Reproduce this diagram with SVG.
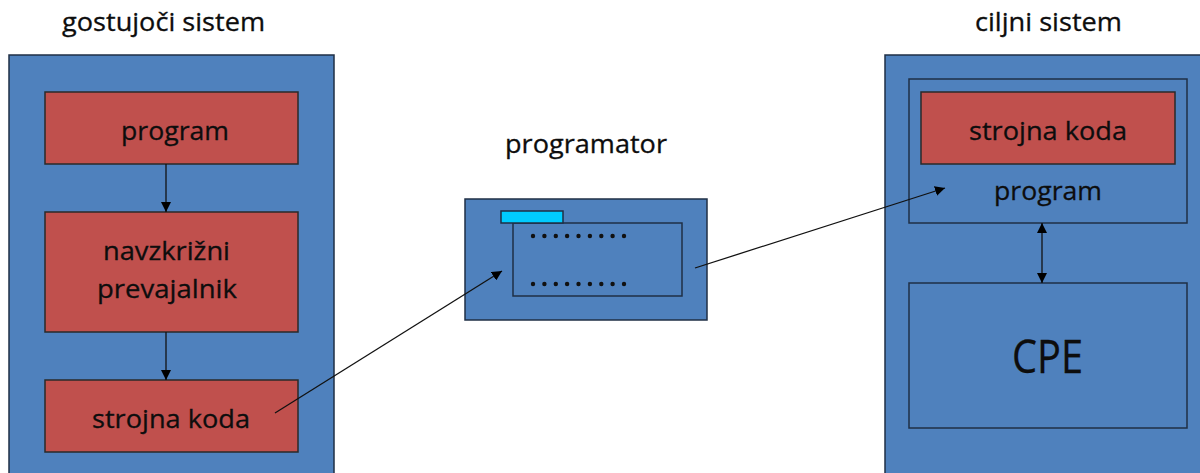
<svg xmlns="http://www.w3.org/2000/svg" width="1200" height="473" viewBox="0 0 1200 473">
  <defs>
    <marker id="arr" viewBox="0 0 10 10" refX="10" refY="5" markerWidth="10" markerHeight="10" markerUnits="userSpaceOnUse" orient="auto-start-reverse">
      <path d="M0,0 L10,5 L0,10 z" fill="#000"/>
    </marker>
    <style>
      .blue { fill: #4F81BD; stroke: #1F2F45; stroke-width: 1.5; }
      .frame { fill: none; stroke: #1F2F45; stroke-width: 1.5; }
      .red { fill: #C0504D; stroke: #2A2A2A; stroke-width: 1.5; }
      .chip { fill: #00CCFF; stroke: #1F2F45; stroke-width: 1.5; }
      .t { font-family: "Open Sans", "Liberation Sans", sans-serif; fill: #0D0D0D; text-anchor: middle; stroke: #0D0D0D; stroke-width: 0.3; }
      .title { font-size: 26px; }
      .lbl { font-size: 26px; }
      .big { font-size: 46px; }
      .conn { stroke: #111; stroke-width: 1.3; fill: none; marker-end: url(#arr); }
      .dot { fill: #111; }
    </style>
  </defs>

  <rect width="1200" height="473" fill="#fff"/>

  <!-- host system -->
  <g id="host">
    <text class="t title" x="163.5" y="31" textLength="203" lengthAdjust="spacingAndGlyphs">gostujoči sistem</text>
    <rect class="blue" x="9" y="55" width="325" height="430"/>
  </g>
  <g id="host-program">
    <rect class="red" x="45" y="92" width="253" height="72"/>
    <text class="t lbl" x="175" y="140" textLength="108" lengthAdjust="spacingAndGlyphs">program</text>
  </g>
  <g id="host-compiler">
    <rect class="red" x="45" y="212" width="253" height="120"/>
    <text class="t lbl" x="166.5" y="260" textLength="127" lengthAdjust="spacingAndGlyphs">navzkrižni</text>
    <text class="t lbl" x="167" y="298" textLength="140" lengthAdjust="spacingAndGlyphs">prevajalnik</text>
  </g>
  <g id="host-code">
    <rect class="red" x="45" y="380" width="253" height="72"/>
    <text class="t lbl" x="171" y="428" textLength="158" lengthAdjust="spacingAndGlyphs">strojna koda</text>
  </g>

  <!-- programmer device -->
  <g id="programmer">
    <text class="t title" x="586" y="153" textLength="162" lengthAdjust="spacingAndGlyphs">programator</text>
    <rect class="blue" x="465" y="199" width="242" height="121"/>
    <rect class="frame" x="513" y="223" width="169" height="73"/>
    <rect class="chip" x="501" y="211" width="62" height="12"/>
    <g id="pins-top">
      <circle class="dot" cx="533" cy="236" r="2.2"/>
      <circle class="dot" cx="544.4" cy="236" r="2.2"/>
      <circle class="dot" cx="555.8" cy="236" r="2.2"/>
      <circle class="dot" cx="567.1" cy="236" r="2.2"/>
      <circle class="dot" cx="578.5" cy="236" r="2.2"/>
      <circle class="dot" cx="589.9" cy="236" r="2.2"/>
      <circle class="dot" cx="601.3" cy="236" r="2.2"/>
      <circle class="dot" cx="612.6" cy="236" r="2.2"/>
      <circle class="dot" cx="624" cy="236" r="2.2"/>
    </g>
    <g id="pins-bottom">
      <circle class="dot" cx="533" cy="284" r="2.2"/>
      <circle class="dot" cx="544.4" cy="284" r="2.2"/>
      <circle class="dot" cx="555.8" cy="284" r="2.2"/>
      <circle class="dot" cx="567.1" cy="284" r="2.2"/>
      <circle class="dot" cx="578.5" cy="284" r="2.2"/>
      <circle class="dot" cx="589.9" cy="284" r="2.2"/>
      <circle class="dot" cx="601.3" cy="284" r="2.2"/>
      <circle class="dot" cx="612.6" cy="284" r="2.2"/>
      <circle class="dot" cx="624" cy="284" r="2.2"/>
    </g>
  </g>

  <!-- target system -->
  <g id="target">
    <text class="t title" x="1048.5" y="31" textLength="147" lengthAdjust="spacingAndGlyphs">ciljni sistem</text>
    <rect class="blue" x="885" y="55" width="330" height="430"/>
  </g>
  <g id="target-memory">
    <rect class="frame" x="909" y="79" width="278" height="144"/>
    <text class="t lbl" x="1048" y="200" textLength="108" lengthAdjust="spacingAndGlyphs">program</text>
  </g>
  <g id="target-code">
    <rect class="red" x="921" y="92" width="254" height="72"/>
    <text class="t lbl" x="1048" y="140" textLength="158" lengthAdjust="spacingAndGlyphs">strojna koda</text>
  </g>
  <g id="target-cpu">
    <rect class="frame" x="909" y="283" width="278" height="145"/>
    <text class="t big" x="1047.5" y="373" textLength="71" lengthAdjust="spacingAndGlyphs">CPE</text>
  </g>

  <!-- connectors -->
  <g id="connectors">
    <line class="conn" x1="166" y1="164" x2="166" y2="212"/>
    <line class="conn" x1="166" y1="332" x2="166" y2="380"/>
    <line class="conn" x1="275" y1="413" x2="502" y2="271"/>
    <line class="conn" x1="695" y1="268" x2="945" y2="188"/>
    <line class="conn" x1="1042" y1="223" x2="1042" y2="283" marker-start="url(#arr)"/>
  </g>
</svg>
